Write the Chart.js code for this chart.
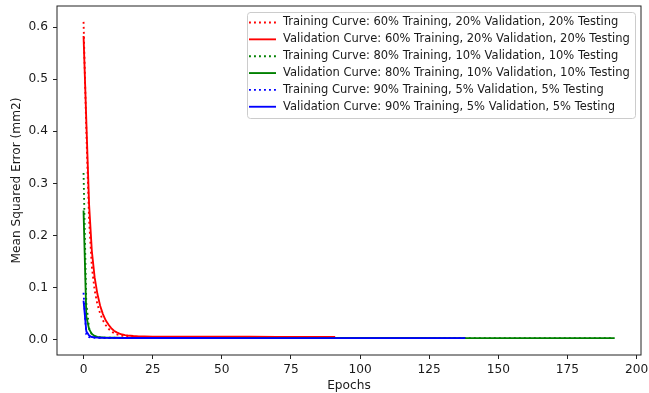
<!DOCTYPE html>
<html><head><meta charset="utf-8">
<script src="https://cdn.jsdelivr.net/npm/chart.js@4"></script>
<style>html,body{margin:0;padding:0;background:#fff}#wrap{position:relative;width:649px;height:393px}</style>
</head><body><div id="wrap"><canvas id="c" width="649" height="393"></canvas></div>
<script>
const xTicks = [0,25,50,75,100,125,150,175,200];
const yTicks = [0.0,0.1,0.2,0.3,0.4,0.5,0.6];
const seriesLabels = [
  'Training Curve: 60% Training, 20% Validation, 20% Testing',
  'Validation Curve: 60% Training, 20% Validation, 20% Testing',
  'Training Curve: 80% Training, 10% Validation, 10% Testing',
  'Validation Curve: 80% Training, 10% Validation, 10% Testing',
  'Training Curve: 90% Training, 5% Validation, 5% Testing',
  'Validation Curve: 90% Training, 5% Validation, 5% Testing'
];
const epochs60 = [0,1,2,3,4,5,6,7,8,9,10,11,12,13,14,15,16,18,20,22,25,30,40,50,60,70,80,91];
const train60 = [0.610,0.400,0.230,0.140,0.095,0.068,0.050,0.037,0.028,0.021,0.016,0.0125,0.0103,0.0088,0.0075,0.0066,0.0060,0.0053,0.0050,0.0047,0.0046,0.0045,0.0044,0.0044,0.0043,0.0043,0.0042,0.0042];
const val60 = [0.583,0.420,0.260,0.170,0.120,0.088,0.065,0.049,0.037,0.029,0.022,0.017,0.014,0.0115,0.0098,0.0088,0.0080,0.0070,0.0064,0.0061,0.0059,0.0057,0.0056,0.0055,0.0055,0.0054,0.0054,0.0053];
const epochs80 = [0,1,2,3,4,5,6,8,10,12,15,20,30,40,60,80,100,120,140,160,180,192];
const train80 = [0.320,0.070,0.022,0.010,0.0062,0.0048,0.0042,0.0038,0.0036,0.0035,0.0034,0.0033,0.0033,0.0032,0.0032,0.0031,0.0031,0.0030,0.0030,0.0030,0.0029,0.0029];
const val80 = [0.248,0.045,0.020,0.011,0.0070,0.0052,0.0045,0.0040,0.0037,0.0036,0.0035,0.0034,0.0033,0.0033,0.0032,0.0032,0.0031,0.0031,0.0030,0.0030,0.0030,0.0030];
const epochs90 = [0,1,2,3,4,5,6,8,10,15,20,30,40,60,80,100,120,138];
const train90 = [0.090,0.010,0.0050,0.0040,0.0036,0.0034,0.0033,0.0032,0.0032,0.0031,0.0031,0.0030,0.0030,0.0030,0.0029,0.0029,0.0029,0.0029];
const val90 = [0.075,0.016,0.0080,0.0050,0.0042,0.0038,0.0036,0.0034,0.0033,0.0032,0.0032,0.0031,0.0031,0.0030,0.0030,0.0030,0.0030,0.0029];

const colors = ['#ff0000','#ff0000','#008000','#008000','#0000ff','#0000ff'];
const dotted = [true,false,true,false,true,false];
const xs = [epochs60,epochs60,epochs80,epochs80,epochs90,epochs90];
const ys = [train60,val60,train80,val80,train90,val90];
const FONT = 'DejaVu Sans';
const TXT = '#1a1a1a';
const DASH = [1.9,3.1];
const AXFS = 12.2;

// legend font size fitted so the first legend entry spans ~335px like the reference
const mctx = document.createElement('canvas').getContext('2d');
mctx.font = '100px "' + FONT + '"';
const FS = Math.round(100 * 336 / mctx.measureText(seriesLabels[0]).width * 10) / 10;

const datasets = ys.map((arr,i)=>({
  label: seriesLabels[i],
  data: arr.map((v,j)=>({x: xs[i][j], y: v})),
  borderColor: colors[i],
  backgroundColor: colors[i],
  borderWidth: 1.85,
  borderDash: dotted[i] ? DASH : [],
  pointRadius: 0,
  tension: 0,
  fill: false,
  order: 5 - i
}));

const framePlugin = {
  id: 'frame',
  afterDraw(chart){
    const {ctx, chartArea:a} = chart;
    ctx.save();
    ctx.strokeStyle = '#222';
    ctx.lineWidth = 1;
    ctx.strokeRect(a.left, a.top, a.right - a.left, a.bottom - a.top);
    const L = 247, T = 12, R = 635, B = 118;
    ctx.beginPath();
    const r = 3;
    ctx.moveTo(L + r, T + 0.5);
    ctx.arcTo(R + 0.5, T + 0.5, R + 0.5, B, r);
    ctx.arcTo(R + 0.5, B + 0.5, L, B + 0.5, r);
    ctx.arcTo(L + 0.5, B + 0.5, L + 0.5, T, r);
    ctx.arcTo(L + 0.5, T + 0.5, R, T + 0.5, r);
    ctx.closePath();
    ctx.fillStyle = 'rgba(255,255,255,0.8)';
    ctx.fill();
    ctx.strokeStyle = '#cccccc';
    ctx.stroke();
    ctx.font = FS + 'px "' + FONT + '"';
    ctx.textBaseline = 'middle';
    ctx.textAlign = 'left';
    for (let i = 0; i < seriesLabels.length; i++) {
      const y = 22.5 + i * 16.85;
      ctx.beginPath();
      ctx.setLineDash(dotted[i] ? DASH : []);
      ctx.strokeStyle = colors[i];
      ctx.lineWidth = 1.85;
      ctx.moveTo(249, y);
      ctx.lineTo(276, y);
      ctx.stroke();
      ctx.setLineDash([]);
      ctx.fillStyle = TXT;
      ctx.fillText(seriesLabels[i], 283, y);
    }
    ctx.restore();
  }
};

new Chart(document.getElementById('c'), {
  type: 'line',
  data: { datasets },
  options: {
    responsive: false,
    animation: false,
    devicePixelRatio: 1,
    layout: { padding: { left: 0, right: 8, top: 6, bottom: 0 } },
    plugins: { legend: { display: false }, tooltip: { enabled: false } },
    scales: {
      x: {
        type: 'linear',
        min: -9.6, max: 201.6,
        afterFit: s => { s.height = 38; s.paddingLeft = 0; s.paddingRight = 0; },
        afterBuildTicks: s => { s.ticks = xTicks.map(v => ({value: v})); },
        grid: { display: true, drawOnChartArea: false, drawTicks: true, tickLength: 4, color: '#222' },
        border: { display: false },
        ticks: { padding: 4, color: TXT, font: { family: FONT, size: AXFS }, maxRotation: 0, autoSkip: false, callback: v => String(v) },
        title: { display: true, text: 'Epochs', color: TXT, font: { family: FONT, size: AXFS }, padding: { top: 0, bottom: 0 } }
      },
      y: {
        type: 'linear',
        min: -0.0295, max: 0.6405,
        afterFit: s => { s.width = 57; s.paddingTop = 0; s.paddingBottom = 0; },
        afterBuildTicks: s => { s.ticks = yTicks.map(v => ({value: v})); },
        grid: { display: true, drawOnChartArea: false, drawTicks: true, tickLength: 4, color: '#222' },
        border: { display: false },
        ticks: { padding: 5, color: TXT, font: { family: FONT, size: AXFS }, autoSkip: false, callback: v => Number(v).toFixed(1) },
        title: { display: true, text: 'Mean Squared Error (mm2)', color: TXT, font: { family: FONT, size: AXFS }, padding: { top: 9.7, bottom: 0 } }
      }
    }
  },
  plugins: [framePlugin]
});
</script></body></html>
